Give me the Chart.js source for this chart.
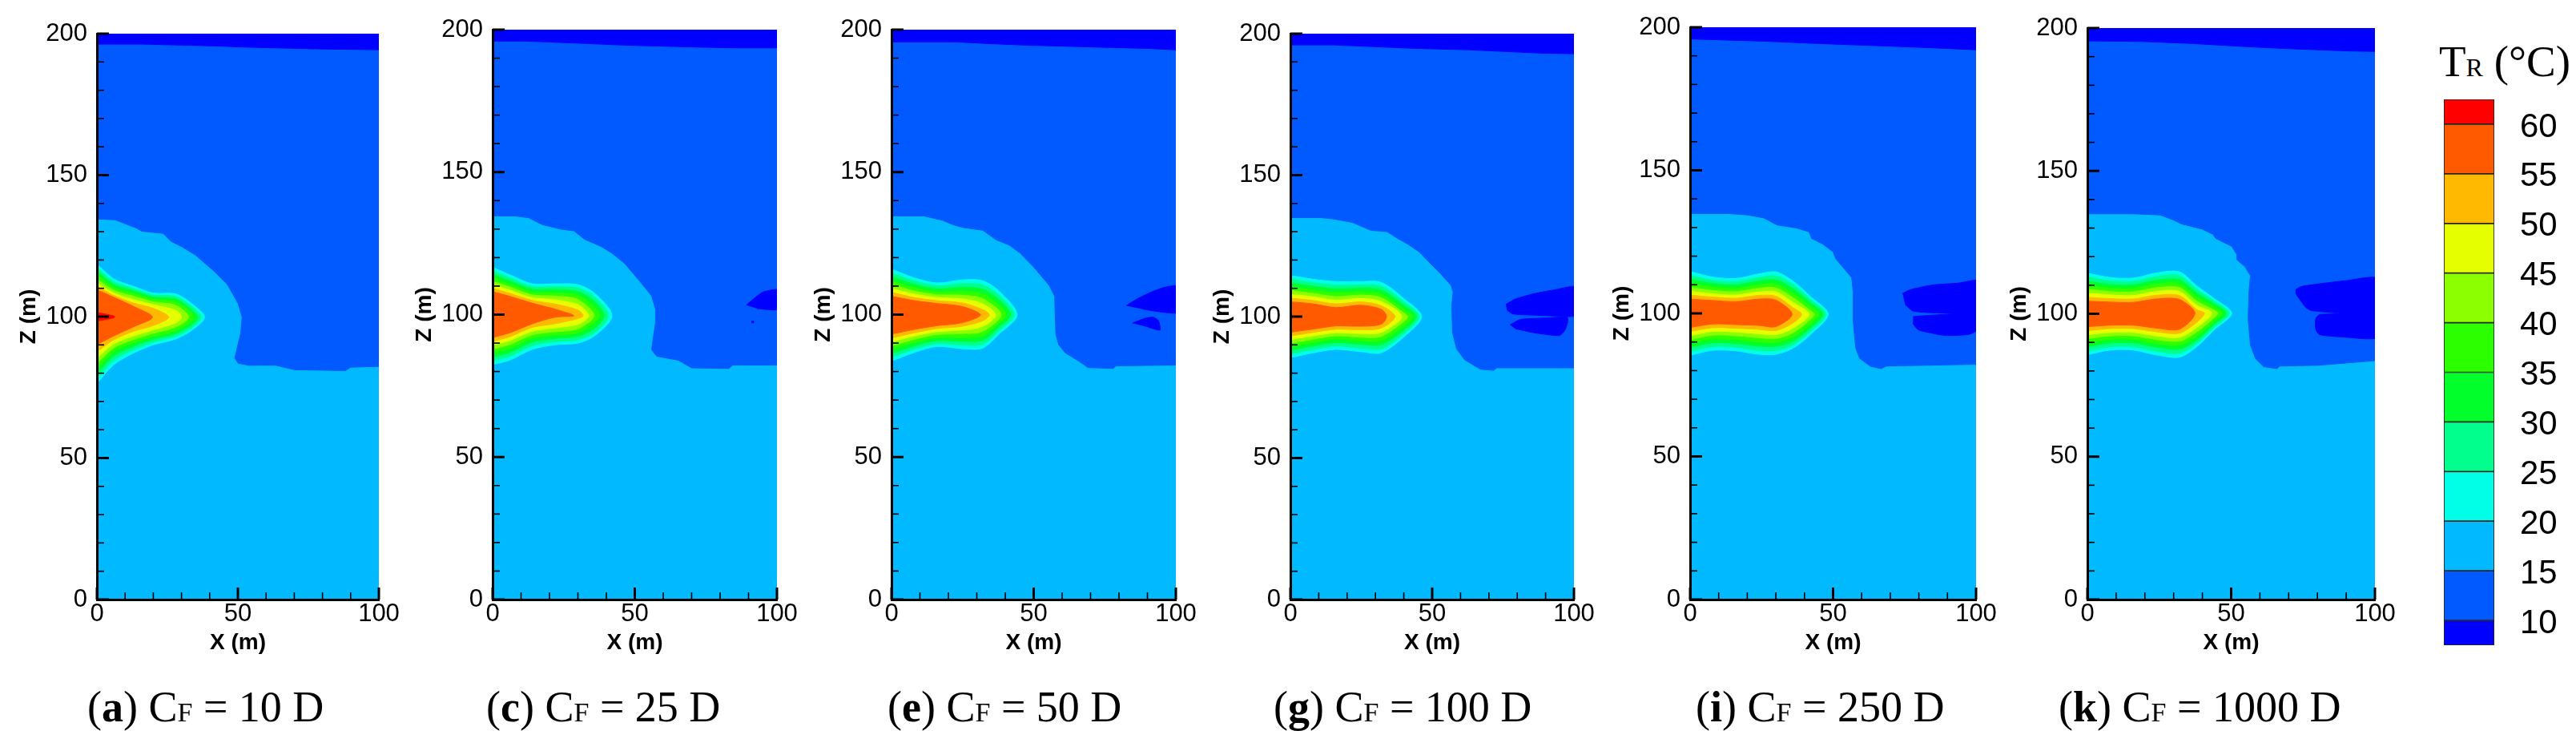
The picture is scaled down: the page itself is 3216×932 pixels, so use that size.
<!DOCTYPE html>
<html>
<head>
<meta charset="utf-8">
<script src="https://cdn.jsdelivr.net/npm/chart.js@4.4.1/dist/chart.umd.min.js"></script>
<style>
  body { margin: 0; width: 3216px; height: 932px; background: #fff; position: relative; overflow: hidden; }
  canvas { position: absolute; top: 0; }
  .cap { position: absolute; top: 855px; font-family: 'Liberation Serif', 'Times New Roman', serif; font-size: 54px; line-height: 54px; white-space: nowrap; color: #000; }
  .cap .sc { font-size: 34px; }
  #cbtitle { position: absolute; left: 3045px; top: 49px; font-family: 'Liberation Serif', 'Times New Roman', serif; font-size: 55px; line-height: 55px; white-space: nowrap; color: #000; }
  #cbtitle .sc { font-size: 32px; }
</style>
</head>
<body>
<div id="cbtitle">T<span class="sc">R</span> (°C)</div>
<script>
// ===== values =====
const panelIds = ['a', 'c', 'e', 'g', 'i', 'k']
const cfValues = ['10', '25', '50', '100', '250', '1000']
const levelTicks = [10, 15, 20, 25, 30, 35, 40, 45, 50, 55, 60]
const barMin = 7.5
const barMax = 62.5
const levelColors = ['#0000ff', '#005aff', '#00b9ff', '#00ffe6', '#00ff8c', '#00ff2b',
                     '#2bff00', '#8cff00', '#e6ff00', '#ffb900', '#ff5a00', '#ff0000']

// lower edge of the cold band at the top (x, z)
const coldTopA = [[0,196.3],[16,196.3],[44,195.6],[50,195.3],[78,194.6],[100,194.3]]
const coldTopC = [[0,196],[11,196],[29,195.3],[48,194.5],[71,193.9],[85,193.6],[100,193.6]]
const coldTopE = [[0,195.7],[22.7,195.7],[34,195.1],[49,194.5],[71,193.9],[90,193.4],[100,192.9]]
const coldTopG = [[0,196],[15.3,196],[43.5,194.8],[62.3,194.3],[88.7,193.1],[100,192.9]]
const coldTopI = [[0,195.9],[23.8,195.2],[42.5,194.4],[61.2,193.7],[79.9,193],[93.9,192.4],[100,192.1]]
const coldTopK = [[0,195.5],[18.7,195.3],[36.3,194.6],[53,193.6],[71.5,192.7],[90,192],[100,191.8]]

// 15 °C edge between the two blues (x, z), left to right
const coolEdgeA = [[0,134.5],[6.4,134.2],[14,131.3],[15.9,130.2],[23.5,129.4],[26.3,126.6],[30.1,124.7],[34.9,121.8],[41.5,116.1],[46.3,111.3],[50.1,104.6],[51.5,99.8],[51,94.1],[48.9,85.4],[50.1,83.5],[53.9,82.8],[63.4,82.8],[70.1,81.2],[88.1,80.9],[90,82.1],[100,82.4]]
const coolEdgeC = [[0,134.6],[8,134.6],[12.7,134],[17.4,131.6],[23.9,130],[28.6,129.4],[32.4,126.4],[38,124],[41.8,121.7],[46.5,117.9],[52.1,111.3],[55.9,106.6],[57.3,101.9],[57.3,97.2],[55.9,87.7],[57.7,85.4],[65.3,84],[70,81.3],[83.1,81.1],[84.5,82.3],[100,82.3]]
const coolEdgeE = [[0,134.6],[11.4,134.6],[18,133.1],[21.7,131.5],[25.5,130.5],[32.1,129.6],[36.7,126.3],[41.4,124.4],[45.2,121.6],[49.9,116.8],[55.5,110.2],[57.4,106.4],[57.5,101.7],[57.8,93.2],[58.8,89.4],[61.1,86.6],[65.8,83.7],[69.1,81.4],[78,81.1],[78.9,82],[100,82.3]]
const coolEdgeG = [[0,135],[10.5,135],[15.3,134.5],[21.8,133.3],[28.4,130.5],[34.1,130],[37.9,127.6],[41.6,125.5],[45.4,122.9],[49.2,119],[52.9,115.2],[56.7,111],[57.4,108.6],[56.9,103.8],[57.2,94.3],[58.6,88.6],[61.4,84.8],[67,81.4],[71.8,81],[72.7,81.9],[100,81.9]]
const coolEdgeI = [[0,134.9],[13.6,134.9],[20.1,134.4],[25.7,133.4],[30.4,130.9],[36.9,129.9],[41.6,128.5],[42.5,126.2],[46.3,124.3],[50,121.5],[50.9,119.1],[53.7,115.8],[56.5,112.5],[57,107.8],[57,97.5],[57.9,88],[59.3,84.3],[63.1,81.5],[66.8,80.7],[68.7,81.6],[100,82.2]]
const coolEdgeK = [[0,135],[15.9,135],[25.2,134.6],[29.8,132.9],[32.6,131.5],[40,129.6],[43.7,127.8],[44.6,126.4],[50.2,123.6],[52,120.7],[52,118.9],[54.8,116.5],[56.7,113.3],[56.2,107.7],[55.9,98.3],[56.7,89],[58.5,84.3],[61.3,81.5],[65.9,80.8],[66.9,81.7],[80.7,82],[100,83.6]]

// cold pockets on the right (closed outlines)
const pocketsA = []
const pocketsC = [
  [[89.2,103.3],[92.5,106.1],[95.3,108],[101,108.7],[101,101.9],[93,102.1]],
  [[91,97.7],[91.8,97.7],[91.8,97.1],[91,97.1]]
]
const pocketsE = [
  [[82.5,103.1],[86.4,105.5],[91.1,107.8],[95.8,109.5],[101,110],[101,100.8],[95.8,100.8],[88.3,101.9]],
  [[84.7,97],[89.2,98.7],[92,99.1],[93.9,97.9],[94.4,94.6],[90.2,95.6]]
]
const pocketsG = [
  [[76,104.3],[79.3,106.2],[85.9,108.1],[93.4,109.5],[101,110.5],[101,100.5],[93.4,100.2],[85.9,100.5],[78.3,101],[76.3,102.4]],
  [[77.4,97.1],[81.2,99],[90.6,99.5],[97.6,99.8],[97.8,98],[96.7,95],[94.8,93.3],[85.9,94.3],[79.3,95.7]]
]
const pocketsI = [
  [[74.3,107],[77.1,108.3],[84.6,109.9],[93.9,110.6],[101,111.4],[101,100.2],[88.3,100.1],[78,100.8],[75.2,103.1]],
  [[78,98.9],[88.3,99.6],[101,99.5],[101,94.6],[97.7,92.7],[89.3,92.3],[79.9,94.2],[77.9,96.5]]
]
const pocketsK = [
  [[72.4,108.4],[74.3,109.5],[80.7,110.5],[90,111.6],[101,112.3],[101,91.9],[90,91.8],[80.7,92.7],[79.4,94.6],[79.4,98.3],[80.7,99.7],[88,100.1],[78,101.1],[76.1,102.1],[74.3,104.4],[72.4,107.2]]
]

// warm plume: x stations, then per level (20, 25, ... °C) [tipX, tipZ, upper z, lower z]
const stationsA = [0, 6, 13, 20, 28, 34]
const plumeA = [
  [38.2, 99.8, [118.4,113.3,110.7,108.3,108.0,104.3], [76.5,83.0,87.1,90.0,92.1,95.4]],
  [37.0, 99.8, [117.2,112.3,109.9,107.6,107.1,103.3], [78.3,84.6,88.3,91.0,93.1,96.3]],
  [35.8, 99.8, [116.0,111.3,109.1,106.9,106.2,102.0], [80.0,86.1,89.5,92.0,94.0,97.4]],
  [34.4, 99.8, [114.6,110.3,108.2,106.1,105.2], [81.7,87.6,90.7,93.0,95.0]],
  [32.5, 99.8, [113.2,109.3,107.2,105.2,104.0], [83.5,89.0,91.9,94.1,96.3]],
  [30.0, 99.8, [111.8,108.3,106.0,104.2,102.2], [85.5,90.4,93.2,95.3,97.8]],
  [25.5, 99.8, [110.6,107.5,104.8,102.9], [87.7,91.8,94.8,96.8]],
  [19.7, 99.8, [109.4,106.8,103.6], [90.2,93.2,96.4]],
  [6.4, 99.9, [101.5], [98.4]]
]
const stationsC = [0, 6, 14, 22, 30, 36]
const plumeC = [
  [42.0, 99.6, [116.5,114.0,110.8,110.8,110.5,107.4], [82.5,84.0,87.8,89.4,90.0,92.6]],
  [40.7, 99.6, [115.3,112.9,109.8,109.8,109.3,106.0], [83.9,85.4,89.1,90.5,91.2,93.8]],
  [39.2, 99.6, [114.1,111.8,108.9,108.8,108.1,104.4], [85.2,86.7,90.4,91.6,92.4,95.2]],
  [37.6, 99.6, [112.9,110.7,107.9,107.7,106.8,102.5], [86.6,88.1,91.7,92.8,93.6,97.2]],
  [35.7, 99.6, [111.6,109.7,106.9,106.5,105.3], [87.9,89.5,92.9,94.0,95.0]],
  [33.8, 99.6, [110.4,108.6,105.9,105.2,103.5], [89.3,90.9,94.2,95.3,96.6]],
  [31.9, 99.6, [109.2,107.5,105.0,103.7,101.6], [90.6,92.2,95.5,96.8,98.6]],
  [28.6, 99.6, [108.0,106.4,104.0,101.9], [92.0,93.6,96.8,99.1]]
]
const stationsE = [0, 8, 16, 25, 32, 38]
const plumeE = [
  [44.2, 99.9, [115.9,112.9,111.1,112.2,111.9,108.1], [83.7,86.7,88.8,88.0,88.2,93.3]],
  [43.1, 99.9, [114.5,111.8,110.1,110.9,110.4,106.6], [85.1,87.9,89.8,89.3,89.6,94.5]],
  [41.9, 99.9, [113.2,110.6,109.0,109.5,108.9,105.0], [86.4,89.0,90.9,90.6,91.0,95.8]],
  [40.5, 99.9, [111.8,109.5,108.0,108.2,107.3,103.2], [87.8,90.2,91.9,91.9,92.5,97.2]],
  [38.6, 99.9, [110.5,108.3,107.0,106.8,105.6], [89.1,91.3,93.0,93.3,94.1]],
  [36.7, 99.9, [109.1,107.2,106.0,105.5,103.8], [90.5,92.5,94.0,94.6,95.8]],
  [34.4, 99.9, [107.8,106.0,104.9,104.1,101.8], [91.8,93.6,95.1,95.9,97.8]],
  [31.3, 99.9, [106.4,104.9,103.9,102.8], [93.2,94.8,96.1,97.2]]
]
const stationsG = [0, 8, 16, 25, 32, 40]
const plumeG = [
  [46.3, 100, [114.5,113.2,112.4,112.4,112.1,106.4], [85.5,87.2,88.4,87.6,87.2,92.8]],
  [45.4, 100, [113.2,112.0,111.1,111.2,110.7,105.3], [86.8,88.4,89.6,88.9,88.6,94.0]],
  [44.4, 100, [111.8,110.7,109.8,110.0,109.4,104.0], [88.1,89.6,90.8,90.2,90.1,95.2]],
  [43.0, 100, [110.5,109.5,108.5,108.8,108.0,102.6], [89.4,90.8,92.0,91.5,91.5,96.6]],
  [41.4, 100, [109.2,108.2,107.1,107.6,106.7,101.3], [90.6,92.0,93.2,92.7,93.0,98.2]],
  [39.3, 100, [107.9,107.0,105.8,106.4,105.3], [91.9,93.2,94.3,94.0,94.4]],
  [36.9, 100, [106.5,105.7,104.5,105.2,103.9], [93.2,94.4,95.5,95.3,95.9]],
  [33.9, 100, [105.2,104.5,103.2,104.0,102.6], [94.5,95.6,96.7,96.6,97.3]]
]
const stationsI = [0, 8, 16, 24, 30, 36, 42]
const plumeI = [
  [48.3, 99.7, [114.6,112.7,112.2,113.8,114.5,111.3,106.0], [85.4,87.1,86.9,85.7,85.7,87.8,92.5]],
  [47.4, 99.7, [113.2,111.5,111.0,112.5,113.1,110.0,105.0], [86.8,88.4,88.2,87.1,87.1,89.0,93.6]],
  [46.4, 99.7, [111.9,110.4,109.9,111.3,111.7,108.6,103.8], [88.2,89.7,89.5,88.6,88.5,90.3,94.8]],
  [45.1, 99.7, [110.5,109.2,108.7,110.0,110.3,107.1,102.5], [89.6,91.0,90.8,90.0,89.9,91.7,96.1]],
  [43.5, 99.7, [109.1,108.0,107.6,108.8,108.9,105.5,101.0], [90.9,92.4,92.2,91.5,91.2,93.2,97.8]],
  [41.6, 99.7, [107.7,106.8,106.4,107.5,107.5,103.8], [92.3,93.7,93.5,92.9,92.6,94.8]],
  [39.0, 99.7, [106.4,105.7,105.3,106.3,106.0,102.0], [93.7,95.0,94.8,94.4,94.0,96.6]],
  [35.7, 99.7, [105.0,104.5,104.1,105.0,104.6], [95.1,96.3,96.1,95.8,95.4]]
]
const stationsK = [0, 8, 16, 24, 32, 38, 44]
const plumeK = [
  [50.2, 100.2, [114.2,112.7,112.5,114.3,114.7,109.8,105.4], [85.7,87.3,87.3,85.6,84.8,88.4,94.3]],
  [49.3, 100.2, [112.8,111.5,111.3,113.0,113.3,108.6,104.5], [87.1,88.5,88.5,86.9,86.2,89.6,95.2]],
  [48.3, 100.2, [111.4,110.2,110.1,111.7,111.9,107.3,103.5], [88.5,89.8,89.8,88.3,87.6,90.8,96.2]],
  [46.9, 100.2, [110.0,109.0,108.9,110.4,110.5,105.9,102.5], [89.9,91.0,91.0,89.6,89.0,92.1,97.3]],
  [45.4, 100.2, [108.6,107.8,107.7,109.1,109.2,104.5,101.3], [91.3,92.3,92.3,91.0,90.4,93.6,98.6]],
  [43.2, 100.2, [107.2,106.6,106.4,107.8,107.8,103.0], [92.7,93.5,93.5,92.3,91.8,95.2]],
  [40.7, 100.2, [105.8,105.3,105.2,106.5,106.4,101.5], [94.1,94.8,94.8,93.7,93.2,97.0]],
  [37.4, 100.2, [104.4,104.1,104.0,105.2,105.0], [95.5,96.0,96.0,95.0,94.6]]
]

// ===== layout (pixels) =====
const plotLeft = [121, 615, 1113, 1611, 2110, 2606]
const plotRight = [473, 970, 1468, 1965, 2467, 2965]
const plotTop = [42, 37, 37, 42, 34, 35]
const plotBottom = 748
const axisBox = 121
const captionLeft = [109, 607, 1108, 1590, 2117, 2570]
const pageH = 932

const coldTops = [coldTopA, coldTopC, coldTopE, coldTopG, coldTopI, coldTopK]
const coolEdges = [coolEdgeA, coolEdgeC, coolEdgeE, coolEdgeG, coolEdgeI, coolEdgeK]
const pockets = [pocketsA, pocketsC, pocketsE, pocketsG, pocketsI, pocketsK]
const stations = [stationsA, stationsC, stationsE, stationsG, stationsI, stationsK]
const plumes = [plumeA, plumeC, plumeE, plumeG, plumeI, plumeK]

Chart.defaults.font.family = "'Liberation Sans', Arial, sans-serif"
Chart.defaults.color = '#000'

// region above an edge, closed outside the plot so the clip cuts it
function upperRegion(edge) {
  const pts = [{x: -1, y: 201}, {x: 101, y: 201}, {x: 101, y: edge[edge.length - 1][1]}]
  for (let i = edge.length - 1; i >= 0; i--) pts.push({x: edge[i][0], y: edge[i][1]})
  pts.push({x: -1, y: edge[0][1]})
  return pts
}

function plumeOutline(st, layer) {
  const [tipX, tipZ, tops, bottoms] = layer
  const pts = [{x: -1, y: tops[0]}]
  tops.forEach((z, i) => pts.push({x: st[i], y: z}))
  pts.push({x: tipX, y: tipZ})
  for (let i = bottoms.length - 1; i >= 0; i--) pts.push({x: st[i], y: bottoms[i]})
  pts.push({x: -1, y: bottoms[0]})
  return pts
}

// tick marks point into the plot
const inwardTicks = {
  id: 'inwardTicks',
  afterDatasetsDraw(chart) {
    const {ctx, chartArea: {left, bottom}, scales: {x, y}} = chart
    ctx.save()
    ctx.strokeStyle = '#000'
    for (let v = 0; v <= 200; v += 10) {
      const major = v % 50 === 0
      const py = y.getPixelForValue(v)
      ctx.lineWidth = major ? 3 : 1.6
      ctx.beginPath()
      ctx.moveTo(left, py)
      ctx.lineTo(left + (major ? 15 : 9), py)
      ctx.stroke()
    }
    for (let v = 0; v <= 100; v += 10) {
      const major = v % 50 === 0
      const px = x.getPixelForValue(v)
      ctx.lineWidth = major ? 3 : 1.6
      ctx.beginPath()
      ctx.moveTo(px, bottom)
      ctx.lineTo(px, bottom - (major ? 15 : 9))
      ctx.stroke()
    }
    ctx.restore()
  }
}

function makePanel(i) {
  const canvas = document.createElement('canvas')
  const w = plotRight[i] - plotLeft[i] + axisBox + 40
  canvas.width = w
  canvas.height = pageH
  canvas.style.left = (plotLeft[i] - axisBox) + 'px'
  document.body.appendChild(canvas)

  const layers = [
    {pts: [{x: -1, y: -1}, {x: 101, y: -1}, {x: 101, y: 201}, {x: -1, y: 201}], color: levelColors[2], t: 0},
    {pts: upperRegion(coolEdges[i]), color: levelColors[1], t: 0},
    {pts: upperRegion(coldTops[i]), color: levelColors[0], t: 0}
  ]
  pockets[i].forEach(p => layers.push({pts: p.map(q => ({x: q[0], y: q[1]})), color: levelColors[0], t: 0.2}))
  plumes[i].forEach((layer, k) => layers.push({pts: plumeOutline(stations[i], layer), color: levelColors[3 + k], t: 0.3}))
  const n = layers.length

  new Chart(canvas, {
    type: 'line',
    data: {
      datasets: layers.map((l, k) => ({
        data: l.pts,
        backgroundColor: l.color,
        borderColor: l.color,
        borderWidth: 1,
        fill: 'shape',
        pointRadius: 0,
        tension: l.t,
        order: n - k
      }))
    },
    options: {
      responsive: false,
      animation: false,
      devicePixelRatio: 1,
      events: [],
      layout: {padding: {top: plotTop[i], right: 40, left: 0, bottom: 0}},
      plugins: {legend: {display: false}, tooltip: {enabled: false}},
      scales: {
        x: {
          type: 'linear', min: 0, max: 100,
          grid: {display: false, drawTicks: false},
          border: {display: true, color: '#000', width: 3, z: 1},
          ticks: {stepSize: 50, font: {size: 31}, padding: 0, maxRotation: 0},
          title: {display: true, text: 'X (m)', font: {size: 28, weight: 'bold'}, padding: {top: 0, bottom: 113}},
          afterFit: s => { s.height = pageH - plotBottom }
        },
        y: {
          type: 'linear', min: 0, max: 200,
          grid: {display: false, drawTicks: false},
          border: {display: true, color: '#000', width: 3, z: 1},
          ticks: {stepSize: 50, font: {size: 31}, padding: 12},
          title: {display: true, text: 'Z (m)', font: {size: 28, weight: 'bold'}, padding: {top: 19, bottom: 0}},
          afterFit: s => { s.width = axisBox }
        }
      }
    },
    plugins: [inwardTicks]
  })

  const cap = document.createElement('div')
  cap.className = 'cap'
  cap.style.left = captionLeft[i] + 'px'
  cap.innerHTML = '(<b>' + panelIds[i] + '</b>) C<span class="sc">F</span> = ' + cfValues[i] + ' D'
  document.body.appendChild(cap)
}

function makeColorbar() {
  const canvas = document.createElement('canvas')
  canvas.width = 186
  canvas.height = pageH
  canvas.style.left = '3030px'
  document.body.appendChild(canvas)
  const lows = [barMin, ...levelTicks]
  const highs = [...levelTicks, barMax]
  new Chart(canvas, {
    type: 'bar',
    data: {
      labels: [''],
      datasets: levelColors.map((c, k) => ({
        data: [[lows[k], highs[k]]],
        backgroundColor: c,
        borderColor: '#262626',
        borderWidth: 1.2,
        borderSkipped: false,
        grouped: false,
        barPercentage: 1,
        categoryPercentage: 1
      }))
    },
    options: {
      responsive: false,
      animation: false,
      devicePixelRatio: 1,
      events: [],
      layout: {padding: {top: 124, bottom: 127, left: 21, right: 0}},
      plugins: {legend: {display: false}, tooltip: {enabled: false}},
      scales: {
        x: {display: false},
        y: {
          position: 'right', min: barMin, max: barMax,
          grid: {display: false, drawTicks: false},
          border: {display: false},
          ticks: {font: {size: 42, family: "'Liberation Sans Narrow', 'Liberation Sans', Arial, sans-serif"}, padding: 32, labelOffset: 4},
          afterBuildTicks: s => { s.ticks = levelTicks.map(v => ({value: v})) },
          afterFit: s => { s.width = 102 }
        }
      }
    }
  })
}

panelIds.forEach((id, i) => makePanel(i))
makeColorbar()
</script>
</body>
</html>
